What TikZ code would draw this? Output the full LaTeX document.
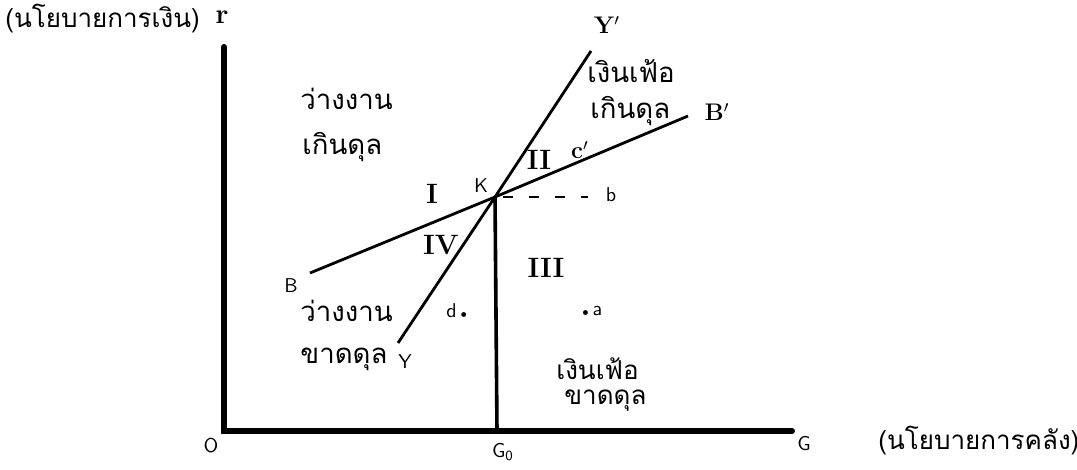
\documentclass[tikz,border=0pt]{standalone}
\usepackage{fontspec}
\newfontfamily\thaifont[Script=Thai]{Loma}
\usetikzlibrary{positioning}
\tikzset{
  axisline/.style = {line width=3pt, line cap=round},
  curve/.style    = {line width=1.4pt},
  drop/.style     = {line width=1.8pt},
  guide/.style    = {line width=1.4pt, dash pattern=on 5pt off 8pt},
  thai/.style     = {font=\thaifont\fontsize{13.8}{16}\selectfont, inner sep=0pt, anchor=west},
  axtitle/.style  = {thai, font=\thaifont\fontsize{13}{15}\selectfont},
  ptlbl/.style    = {font=\sffamily\fontsize{10}{11}\selectfont, inner sep=0pt},
  crvlbl/.style   = {font=\bfseries\fontsize{12}{13}\selectfont, inner sep=0pt},
  zone/.style     = {font=\bfseries\fontsize{14}{15}\selectfont, inner sep=0pt},
}

\begin{document}
\begin{tikzpicture}[x=0.5pt, y=-0.5pt]
\useasboundingbox (0,0) rectangle (1077,470);

% ---- axes ----
\coordinate (O)    at (224,431);
\coordinate (rtop) at (224,47);
\coordinate (gend) at (792,431);
\draw[axisline] (rtop) -- (O) -- (gend);
\node[crvlbl, font=\bfseries\fontsize{14}{15}\selectfont] (r) at (222,17) {r};
\node[ptlbl]  (o) at (211,446) {O};
\node[ptlbl]  (g) at (804,444) {G};
\node[axtitle] (money)  at (5,19)    {(นโยบายการเงิน)};
\node[axtitle] (fiscal) at (878,441) {(นโยบายการคลัง)};

% ---- the two lines and K ----
\coordinate (K)  at (495,197);
\coordinate (B)  at (310,273);
\coordinate (Bp) at (688,116);
\coordinate (Y)  at (398,343);
\coordinate (Yp) at (591,51);
\coordinate (G0) at (497,431);
\coordinate (bend) at (588,197);
\draw[curve] (B) -- (K) -- (Bp);
\draw[curve] (Y) -- (K) -- (Yp);
\draw[drop] (K) -- (G0);
\draw[guide] ([xshift=4pt]K) -- (bend);

\node[ptlbl]  (klbl)  at (481,186) {K};
\node[ptlbl]  (blbl)  at (291,286) {B};
\node[crvlbl] (bplbl) at (717,112) {B$'$};
\node[ptlbl]  (ylbl)  at (405,362) {Y};
\node[crvlbl] (yplbl) at (607,25) {Y$'$};
\node[ptlbl]  (g0lbl) at (503,452) {G\textsubscript{0}};
\node[ptlbl]  (bpt)   at (611,195) {b};
\node[crvlbl] (cpt)   at (580,150) {c$'$};
\node[ptlbl]  (dpt)   at (457,311) {d\,{\tiny$\bullet$}};
\node[ptlbl]  (apt)   at (592,311) {{\tiny$\bullet$}\,a};

% ---- the four zones ----
\node[zone] (z1) at (432,194) {I};
\node[zone] (z2) at (539,160) {II};
\node[zone] (z3) at (546,268) {III};
\node[zone] (z4) at (441,245) {IV};

\node[thai] (ul1) at (300,99)  {ว่างงาน};
\node[thai] (ul2) at (302,147) {เกินดุล};
\node[thai] (ur1) at (587,71)  {เงินเฟ้อ};
\node[thai] (ur2) at (590,111) {เกินดุล};
\node[thai] (ll1) at (300,311) {ว่างงาน};
\node[thai] (ll2) at (300,359) {ขาดดุล};
\node[thai, font=\thaifont\fontsize{13}{15}\selectfont] (lr1) at (556,369) {เงินเฟ้อ};
\node[thai, font=\thaifont\fontsize{13}{15}\selectfont] (lr2) at (564,401) {ขาดดุล};

\end{tikzpicture}
\end{document}
